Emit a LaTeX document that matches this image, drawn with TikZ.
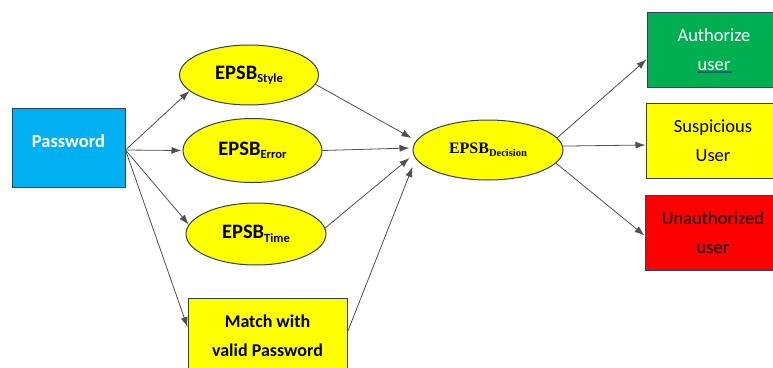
\documentclass[tikz,border=0pt]{standalone}
\usepackage{fontspec}
\setmainfont{Carlito}
\newfontfamily\serifbold{Liberation Serif}
\usetikzlibrary{shapes.geometric,arrows.meta}
\definecolor{pwblue}{HTML}{00B0F0}
\definecolor{okgreen}{HTML}{00B050}
\definecolor{badred}{HTML}{FF0000}
\definecolor{ellyellow}{HTML}{FFFF00}
\definecolor{rim}{HTML}{2F3F5F}
\definecolor{linkgray}{HTML}{505050}
\definecolor{spellteal}{HTML}{1B5E72}
\newcommand{\epsbsub}[1]{\raisebox{-0.35ex}{\fontsize{12.5}{12.5}\selectfont #1}}
\newcommand{\epsbdec}[1]{\raisebox{-0.4ex}{\fontsize{10.5}{10.5}\selectfont #1}}
\tikzset{
  box/.style={draw=rim, line width=1pt, rectangle, inner sep=0pt, align=center},
  oval/.style={draw=rim, line width=1pt, ellipse, fill=ellyellow, inner sep=0pt,
    font=\fontsize{20.5}{20.5}\selectfont\bfseries},
  link/.style={draw=linkgray, line width=0.8pt, -{Latex[length=10pt,width=7pt]}},
}
\begin{document}
\begin{tikzpicture}[x=1pt,y=-1pt]
  \useasboundingbox (0,0) rectangle (773,367);

  % source box and its label (label sits a little above the middle)
  \node[box, fill=pwblue, minimum width=113pt, minimum height=79pt] (pw) at (68.5,147.5) {};
  \node[text=white, font=\fontsize{18.5}{18.5}\selectfont\bfseries] (pwtext) at (68.5,141) {Password};
  \coordinate (pwout) at ([yshift=-2.5pt]pw.east);

  % three behaviour ellipses
  \node[oval, minimum width=139pt, minimum height=60pt] (style) at (249,75) {EPSB\epsbsub{Style}};
  \node[oval, minimum width=139pt, minimum height=64pt] (error) at (252.5,150.5) {EPSB\epsbsub{Error}};
  \node[oval, minimum width=140pt, minimum height=62pt] (time) at (256,234) {EPSB\epsbsub{Time}};

  % password match box (runs past the lower edge)
  \node[box, fill=ellyellow, minimum width=159pt, minimum height=76pt,
        font=\fontsize{18}{29}\selectfont\bfseries] (match) at (267.5,336) {Match with\\valid Password};

  % decision ellipse
  \node[draw=rim, line width=1pt, ellipse, fill=ellyellow, inner sep=0pt,
        minimum width=150pt, minimum height=60pt,
        font=\fontsize{16}{16}\selectfont\serifbold\bfseries] (dec) at (488,150) {EPSB\epsbdec{Decision}};

  % outcome boxes (run past the right edge)
  \node[box, fill=okgreen, text=white, minimum width=134pt, minimum height=75pt,
        font=\fontsize{18.5}{29}\selectfont] (auth) at (714,49.5) {Authorize\\user};
  \node[box, fill=ellyellow, minimum width=134pt, minimum height=75pt,
        font=\fontsize{18.5}{29}\selectfont] (susp) at (713,140.5) {Suspicious\\User};
  \node[box, fill=badred, minimum width=136pt, minimum height=75pt,
        font=\fontsize{18.5}{29}\selectfont] (unauth) at (713,232.5) {Unauthorized\\user};
  % underline beneath "user"
  \coordinate (sqA) at (697,72);
  \coordinate (sqB) at (732,72);
  \draw[spellteal, line width=2pt] (sqA) -- (sqB);

  % password to the four checks
  \draw[link] (pwout) -- (style.195);
  \draw[link] (pwout) -- ([xshift=-1pt]error.west);
  \draw[link] (pwout) -- (time.172);
  \draw[link] (pwout) -- ([yshift=9pt]match.west);

  % checks to the decision
  \draw[link] (style.-8) -- ([xshift=-1pt,yshift=12pt]dec.west);
  \draw[link] (error.east) -- ([xshift=-3pt,yshift=2pt]dec.west);
  \draw[link] (time.5) -- ([xshift=-3pt,yshift=-8pt]dec.west);
  \draw[link] (match.north east |- 0,332) -- ([yshift=-17pt]dec.west);

  % decision to the outcomes
  \draw[link] (dec.10) -- ([yshift=-10pt]auth.west);
  \draw[link] (dec.3) -- ([yshift=-4.5pt]susp.west);
  \draw[link] (dec.-11) -- ([yshift=-3pt]unauth.west);
\end{tikzpicture}
\end{document}
